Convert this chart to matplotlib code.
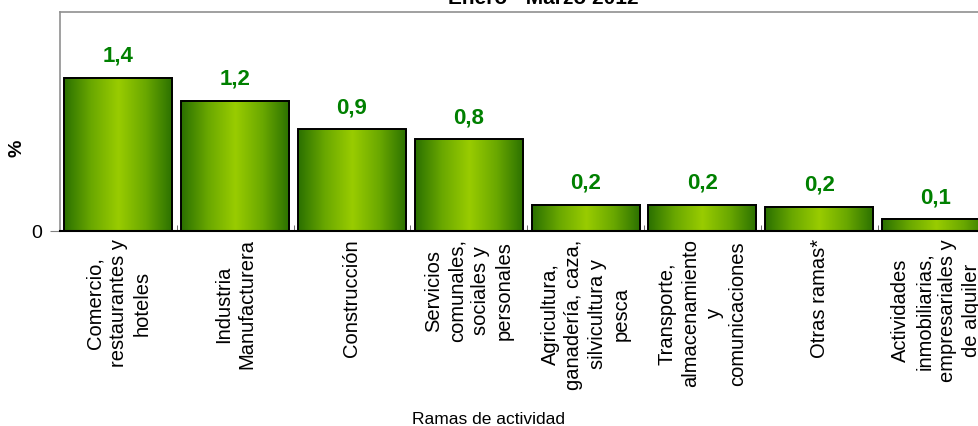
import numpy as np
import matplotlib.pyplot as plt
from matplotlib.colors import LinearSegmentedColormap

plt.rcParams['font.family'] = ['Liberation Sans', 'DejaVu Sans']

# Contribution to growth by branch of activity (%)
ramas = ['Comercio,\nrestaurantes y\nhoteles',
         'Industria\nManufacturera',
         'Construcción',
         'Servicios\ncomunales,\nsociales y\npersonales',
         'Agricultura,\nganadería, caza,\nsilvicultura y\npesca',
         'Transporte,\nalmacenamiento\ny\ncomunicaciones',
         'Otras ramas*',
         'Actividades\ninmobiliarias,\nempresariales y\nde alquiler']
valores = [1.40, 1.19, 0.93, 0.84, 0.24, 0.24, 0.22, 0.11]

W, H = 979, 426
fig = plt.figure(figsize=(W / 100, H / 100), dpi=100)
# axes runs past the right edge of the figure
ax = fig.add_axes([60 / W, (H - 231) / H, 8 * 116.8 / W, 219 / H])

x = np.arange(len(valores))
ancho = 0.925
ax.set_xlim(-0.5, len(valores) - 0.5)
ax.set_ylim(0, 2.0)

# green cylinder-like gradient: dark edges, light centre
cmap = LinearSegmentedColormap.from_list('verde', ['#2a7000', '#6aa800', '#99cc00', '#6aa800', '#2a7000'])
grad = np.linspace(0, 1, 256).reshape(1, -1)
bars = ax.bar(x, valores, width=ancho, color='none', edgecolor='black', linewidth=1.4, zorder=3)
for b in bars:
    x0, y0 = b.get_x(), b.get_y()
    ax.imshow(grad, cmap=cmap, aspect='auto', extent=[x0, x0 + b.get_width(), y0, y0 + b.get_height()],
              zorder=2, interpolation='bicubic')

for xi, v in zip(x, valores):
    ax.text(xi, v + 0.10, f'{v:.1f}'.replace('.', ','), ha='center', va='bottom',
            color='#008000', fontsize=16, fontweight='bold')

ax.set_xticks(x)
ax.set_xticklabels(ramas, rotation=90, fontsize=14.5, va='top', ha='center', multialignment='center',
                   linespacing=1.3)
ax.set_xticks(x[:-1] + 0.5, minor=True)
ax.tick_params(axis='x', which='both', direction='in', length=4, color='#555555', pad=6)
ax.set_yticks([0])
ax.set_yticklabels(['0'], fontsize=14)
ax.tick_params(axis='y', direction='out', length=7, color='#808080', pad=6)

for s in ['top', 'left', 'right']:
    ax.spines[s].set_color('#909090')
    ax.spines[s].set_linewidth(1.2)
ax.spines['bottom'].set_color('black')
ax.spines['bottom'].set_linewidth(1.5)

fig.text(17 / W, 1 - 148 / H, '%', rotation=90, ha='center', va='center', fontsize=14, fontweight='bold')
fig.text(489 / W, 1 - 424 / H, 'Ramas de actividad', ha='center', va='baseline', fontsize=12.5)
fig.text(543 / W, 1 - 4 / H, 'Enero - Marzo 2012', ha='center', va='baseline', fontsize=15, fontweight='bold')

fig.savefig('out.png', dpi=100)
